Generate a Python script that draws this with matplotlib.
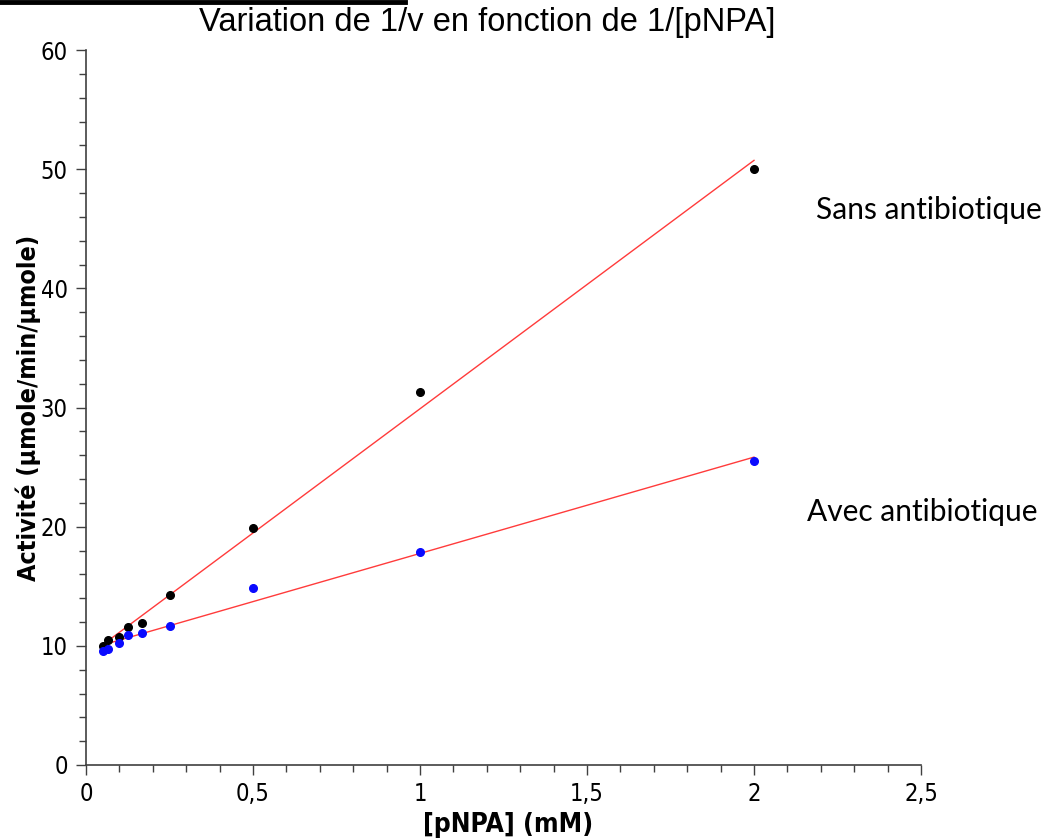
import numpy as np
import matplotlib
matplotlib.use("Agg")
import matplotlib.pyplot as plt
from matplotlib.lines import Line2D
from matplotlib.ticker import MultipleLocator, FuncFormatter

# Data
x_inv_s = [0.05, 0.0667, 0.1, 0.125, 0.1667, 0.25, 0.5, 1.0, 2.0]
y_sans = [10.0, 10.5, 10.7, 11.6, 11.9, 14.3, 19.9, 31.3, 50.0]
y_avec = [9.6, 9.7, 10.2, 10.9, 11.1, 11.7, 14.85, 17.9, 25.5]
labels = ["Sans antibiotique", "Avec antibiotique"]

plt.rcParams["font.family"] = ["DejaVu Sans"]
plt.rcParams["font.stretch"] = "condensed"

W, H = 1045, 839
fig = plt.figure(figsize=(W/100, H/100), dpi=100)
ax = fig.add_axes([86/W, 74/H, (921-86)/W, (765-50)/H])

x = np.array(x_inv_s)
xs = np.array([min(x_inv_s), max(x_inv_s)])
for yv in (y_sans, y_avec):
    p = np.polyfit(x, yv, 1)
    ax.plot(xs, np.polyval(p, xs), color="#ff3b3b", lw=1.0, zorder=2)
ax.plot(x, y_sans, "o", color="black", ms=5.5, zorder=3)
ax.plot(x, y_avec, "o", color="#0a0aff", ms=5.5, zorder=3)

ax.set_xlim(0, 2.5)
ax.set_ylim(0, 60)
ax.xaxis.set_major_locator(MultipleLocator(0.5))
ax.xaxis.set_minor_locator(MultipleLocator(0.1))
ax.yaxis.set_major_locator(MultipleLocator(10))
ax.yaxis.set_minor_locator(MultipleLocator(2))
ax.xaxis.set_major_formatter(FuncFormatter(lambda v, p: ("%g" % v).replace(".", ",")))
for s in ("top", "right"):
    ax.spines[s].set_visible(False)
for s in ("left", "bottom"):
    ax.spines[s].set_color("#404040")
    ax.spines[s].set_linewidth(1.2)
ax.tick_params(which="major", length=7.2, width=1, color="#404040", labelsize=17)
ax.tick_params(which="minor", length=5, width=1, color="#404040")
ax.tick_params(axis="y", which="major", pad=6)
ax.tick_params(axis="x", which="major", pad=5)

ax.set_xlabel("[pNPA] (mM)", fontsize=19, fontweight="bold")
ax.set_ylabel("Activité (µmole/min/µmole)", fontsize=18, fontweight="bold")
ax.xaxis.set_label_coords(0.505, -0.084)
ax.yaxis.set_label_coords(-0.0695, 0.499)
ax.xaxis.label.set_va("center")
ax.yaxis.label.set_va("center")

fig.text(487/W, 1 - 22/H, "Variation de 1/v en fonction de 1/[pNPA]", ha="center", va="center",
         fontsize=23.5, family="Liberation Sans", fontstretch="normal")
fig.text(929/W, 1 - 210/H, labels[0], ha="center", va="center", fontsize=21.5, family="Lato",
         fontstretch="normal")
fig.text(922/W, 1 - 512/H, labels[1], ha="center", va="center", fontsize=21.5, family="Lato",
         fontstretch="normal")
fig.add_artist(Line2D([0, 405/W], [1 - 2/H, 1 - 2/H], color="black", lw=3.5,
                      transform=fig.transFigure))

fig.savefig("out.png", dpi=100)
